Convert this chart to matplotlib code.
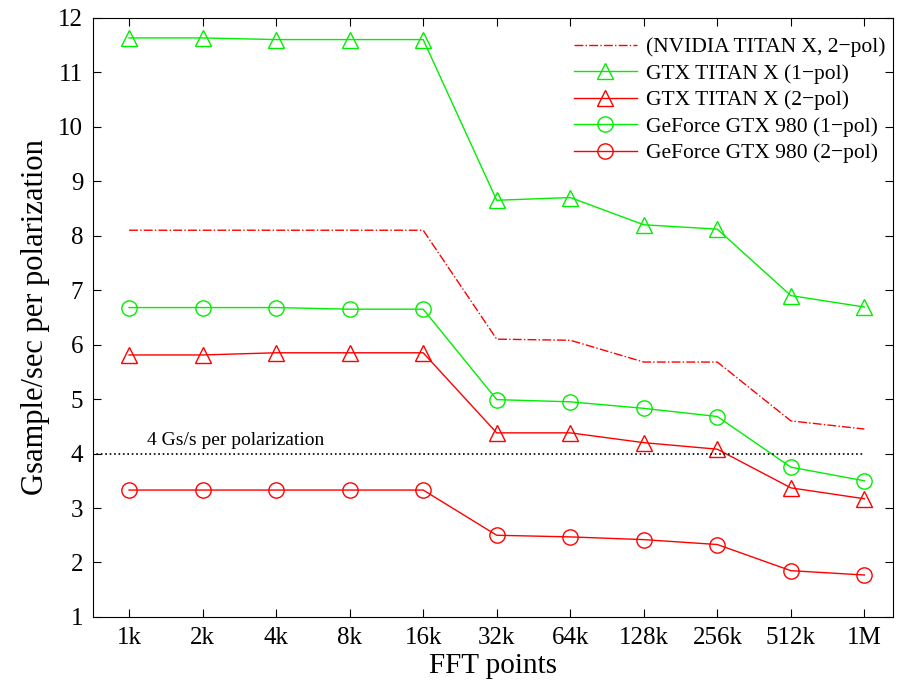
import matplotlib
matplotlib.use('Agg')
import matplotlib.pyplot as plt
import numpy as np

plt.rcParams['font.family'] = ['Liberation Serif', 'DejaVu Serif']

fft_labels = ['1k', '2k', '4k', '8k', '16k', '32k', '64k', '128k', '256k', '512k', '1M']
titan_2pol_ref = [8.1, 8.1, 8.1, 8.1, 8.1, 6.1, 6.08, 5.68, 5.68, 4.6, 4.45]
titan_1pol = [11.63, 11.63, 11.6, 11.6, 11.6, 8.65, 8.7, 8.2, 8.12, 6.9, 6.69]
titan_2pol = [5.81, 5.81, 5.85, 5.85, 5.85, 4.38, 4.38, 4.2, 4.08, 3.37, 3.17]
gtx980_1pol = [6.68, 6.68, 6.68, 6.65, 6.65, 4.99, 4.95, 4.83, 4.68, 3.75, 3.5]
gtx980_2pol = [3.33, 3.33, 3.33, 3.33, 3.33, 2.5, 2.47, 2.42, 2.33, 1.85, 1.77]
threshold = 4

x = np.arange(1, len(fft_labels) + 1)

fig = plt.figure(figsize=(9.03, 6.84), dpi=100)
ax = fig.add_axes([0.103, 0.098, 0.886, 0.876])

ax.plot(x, titan_2pol_ref, '-.', color='#ff0000', lw=1, label='(NVIDIA TITAN X, 2\u2212pol)')
ax.plot(x, titan_1pol, '-^', color='#00ee00', lw=1, ms=12, mfc='none', mew=1,
        label='GTX TITAN X (1\u2212pol)')
ax.plot(x, titan_2pol, '-^', color='#ff0000', lw=1, ms=12, mfc='none', mew=1,
        label='GTX TITAN X (2\u2212pol)')
ax.plot(x, gtx980_1pol, '-o', color='#00ee00', lw=1, ms=11, mfc='none', mew=1,
        label='GeForce GTX 980 (1\u2212pol)')
ax.plot(x, gtx980_2pol, '-o', color='#ff0000', lw=1, ms=11, mfc='none', mew=1,
        label='GeForce GTX 980 (2\u2212pol)')

# 4 Gs/s reference line
ax.plot([0.5, 11], [threshold, threshold], ':', color='black', lw=1.2)
ax.text(1.25, threshold + 0.08, '4 Gs/s per polarization', fontsize=14, va='bottom')

ax.set_xlim(0.51, 11.39)
ax.set_ylim(1, 12)
ax.set_xticks(x)
ax.set_xticklabels(fft_labels)
ax.set_yticks(range(1, 13))
ax.tick_params(direction='in', top=True, right=True, labelsize=18, length=6, pad=7)
ax.set_xlabel('FFT points', fontsize=21, labelpad=3)
ax.set_ylabel('Gsample/sec per polarization', fontsize=22, labelpad=6)

ax.legend(loc='upper right', frameon=False, fontsize=15.5, handlelength=2.9,
          handletextpad=0.45, labelspacing=0.3, bbox_to_anchor=(1.015, 1.0))

fig.savefig('out.png', dpi=100)
